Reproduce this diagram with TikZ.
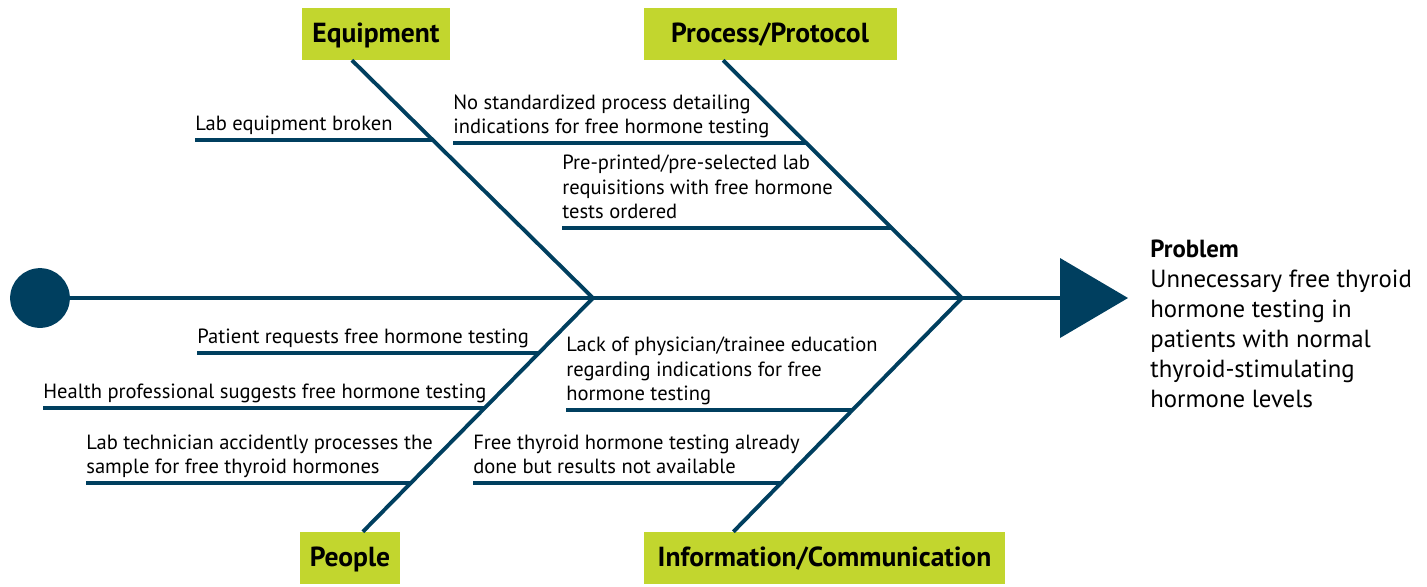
\documentclass[tikz,border=0pt]{standalone}
\usepackage{fontspec}
\setmainfont{PT Sans}
\usetikzlibrary{calc}
\definecolor{navy}{RGB}{0,63,95}
\definecolor{lime}{RGB}{194,214,46}
\tikzset{
  bone/.style={draw=navy, line width=2.2pt},
  cat/.style={fill=lime, font=\fontsize{15.7}{18}\selectfont\bfseries, minimum height=29.5pt, inner sep=0, text height=14pt, text depth=3.8pt},
  cause/.style={anchor=south west, align=left, inner xsep=0, inner ysep=1pt, font=\fontsize{11.7}{13.9}\selectfont},
}
\begin{document}
\begin{tikzpicture}[x=0.02cm, y=-0.02cm]
		\useasboundingbox (0,0) rectangle (1427,586);
		% categories
		\node[cat, minimum width=83.9pt] (eq) at (376,34) {Equipment};
		\node[cat, minimum width=144pt] (proc) at (770,34) {Process/Protocol};
		\node[cat, minimum width=56.7pt] (ppl) at (350,558) {People};
		\node[cat, minimum width=205.8pt] (info) at (824.5,558) {Information/Communication};
		% spine
		\node[circle, fill=navy, minimum size=34pt, inner sep=0] (tail) at (40,298) {};
		\coordinate (head) at (1060,298);
		\fill[navy] (1060,258) -- (1128,298) -- (1060,338) -- cycle;
		\coordinate (j1) at (593,298);
		\coordinate (j2) at (962,298);
		\draw[bone] (tail) -- (head);
		% bones
		\coordinate (eqfoot) at ($(eq.south west)+(50,0)$);
		\coordinate (procfoot) at ($(proc.south west)+(80,0)$);
		\coordinate (pplfoot) at ($(ppl.north west)+(63,0)$);
		\coordinate (infofoot) at ($(info.north west)+(90,0)$);
		\draw[bone] (eqfoot) -- (j1);
		\draw[bone] (procfoot) -- (j2);
		\draw[bone] (pplfoot) -- (j1);
		\draw[bone] (infofoot) -- (j2);
		% causes
		\node[cause] (eq1) at (195,140) {Lab equipment broken\strut};
		\node[cause] (proc1) at (453,143) {No standardized process detailing\\indications for free hormone testing\strut};
		\node[cause] (proc2) at (562,228) {Pre-printed/pre-selected lab\\requisitions with free hormone\\tests ordered\strut};
		\node[cause] (ppl1) at (197,353) {Patient requests free hormone testing\strut};
		\node[cause] (ppl2) at (43,408) {Health professional suggests free hormone testing\strut};
		\node[cause] (ppl3) at (86,483) {Lab technician accidently processes the\\sample for free thyroid hormones\strut};
		\node[cause] (info1) at (566,410) {Lack of physician/trainee education\\regarding indications for free\\hormone testing\strut};
		\node[cause] (info2) at (473,483) {Free thyroid hormone testing already\\done but results not available\strut};
		\draw[bone] (eq1.south west) -- (intersection of eq1.south west--eq1.south east and eqfoot--j1);
		\draw[bone] (proc1.south west) -- (intersection of proc1.south west--proc1.south east and procfoot--j2);
		\draw[bone] (proc2.south west) -- (intersection of proc2.south west--proc2.south east and procfoot--j2);
		\draw[bone] (ppl1.south west) -- (intersection of ppl1.south west--ppl1.south east and pplfoot--j1);
		\draw[bone] (ppl2.south west) -- (intersection of ppl2.south west--ppl2.south east and pplfoot--j1);
		\draw[bone] (ppl3.south west) -- (intersection of ppl3.south west--ppl3.south east and pplfoot--j1);
		\draw[bone] (info1.south west) -- (intersection of info1.south west--info1.south east and infofoot--j2);
		\draw[bone] (info2.south west) -- (intersection of info2.south west--info2.south east and infofoot--j2);
		% problem
		\node[anchor=north west, align=left, inner sep=0, font=\fontsize{14.1}{17}\selectfont] (prob) at (1150,240) {\textbf{Problem}\\Unnecessary free thyroid\\hormone testing in\\patients with normal\\thyroid-stimulating\\hormone levels};
\end{tikzpicture}
\end{document}
